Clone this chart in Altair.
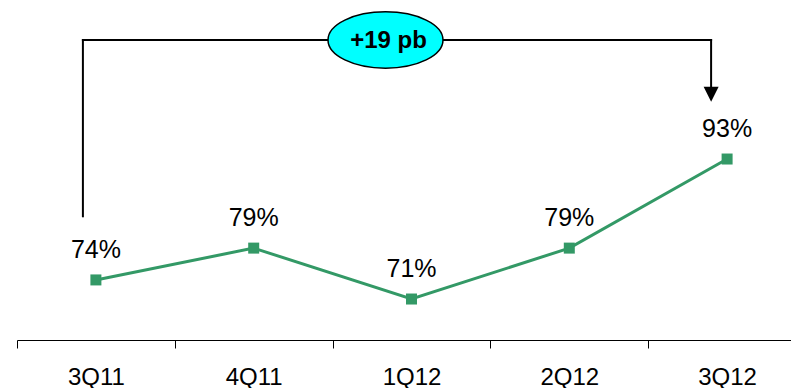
import altair as alt
import pandas as pd

# Quarterly ratio (%)
quarters = ["3Q11", "4Q11", "1Q12", "2Q12", "3Q12"]
ratio = [74, 79, 71, 79, 93]
point_labels = [f"{v}%" for v in ratio]

# Bracket comparing first and last quarter, in ratio units
bracket_top = 111.7
bracket_left_end = 84.0
arrow_tip = 102.0
change_text = f"+{ratio[-1] - ratio[0]} pb"

GREEN = "#339966"
FONT = "Arial"

series = pd.DataFrame({"quarter": quarters, "ratio": ratio, "label": point_labels})
left_leg = pd.DataFrame({"quarter": [quarters[0]], "y": [bracket_top], "y2": [bracket_left_end]})
top_bar = pd.DataFrame({"quarter": [quarters[0]], "quarter2": [quarters[-1]], "y": [bracket_top]})
right_leg = pd.DataFrame({"quarter": [quarters[-1]], "y": [bracket_top], "y2": [arrow_tip + 1.5]})
arrow_head = pd.DataFrame({"quarter": [quarters[-1]], "y": [arrow_tip]})
badge = pd.DataFrame({"quarter": [quarters[2]], "y": [bracket_top], "text": [change_text]})

x_scale = alt.Scale(type="band", domain=quarters, range=[0, 789],
                    paddingInner=0, paddingOuter=0)
y_scale = alt.Scale(domain=[64.56, 117.99], nice=False, zero=False)

x_axis = alt.Axis(title=None, domainColor="black", domainWidth=1,
                  tickColor="black", tickSize=8, tickWidth=1, tickBand="extent",
                  labelFont=FONT, labelFontSize=24, labelColor="black",
                  labelPadding=17, labelAngle=0, grid=False)

X = alt.X("quarter:N", scale=x_scale, sort=quarters, axis=x_axis)


def Y(field):
    return alt.Y(f"{field}:Q", scale=y_scale, axis=None)


line = alt.Chart(series).mark_line(color=GREEN, strokeWidth=3).encode(x=X, y=Y("ratio"))
markers = alt.Chart(series).mark_point(
    shape="square", filled=True, color=GREEN, size=121, opacity=1
).encode(x=X, y=Y("ratio"))
values = alt.Chart(series).mark_text(
    font=FONT, fontSize=25, color="black", baseline="alphabetic", dy=-22
).encode(x=X, y=Y("ratio"), text="label:N")

rule_style = dict(color="black", strokeWidth=2, strokeCap="square")
leg_l = alt.Chart(left_leg).mark_rule(xOffset=-13, **rule_style).encode(
    x=X, y=Y("y"), y2="y2:Q")
bar_top = alt.Chart(top_bar).mark_rule(xOffset=-13, x2Offset=-16, **rule_style).encode(
    x=X, x2="quarter2:N", y=Y("y"))
leg_r = alt.Chart(right_leg).mark_rule(xOffset=-16, **rule_style).encode(
    x=X, y=Y("y"), y2="y2:Q")
head = alt.Chart(arrow_head).mark_point(
    shape="M-1,-2L1,-2L0,0Z", size=225, filled=True, color="black", opacity=1,
    xOffset=-16
).encode(x=X, y=Y("y"))

ellipse = alt.Chart(badge).mark_point(
    shape="M-1,0 A1,0.49,0,1,1,1,0 A1,0.49,0,1,1,-1,0 Z", size=13225,
    filled=True, fill="#00FFFF", stroke="black", strokeWidth=1.5,
    opacity=1, xOffset=-26
).encode(x=X, y=Y("y"))
badge_text = alt.Chart(badge).mark_text(
    font=FONT, fontSize=24, fontWeight="bold", color="black",
    baseline="alphabetic", dx=-23, dy=8
).encode(x=X, y=Y("y"), text="text:N")

chart = alt.layer(
    leg_l, bar_top, leg_r, head, line, markers, values, ellipse, badge_text
).properties(
    width=773, height=340,
    autosize=alt.AutoSizeParams(type="none"),
    padding={"left": 17, "top": 0, "right": 1, "bottom": 48},
).configure_view(stroke=None)

chart.save("out.html", embed_options={"renderer": "svg", "actions": False})
